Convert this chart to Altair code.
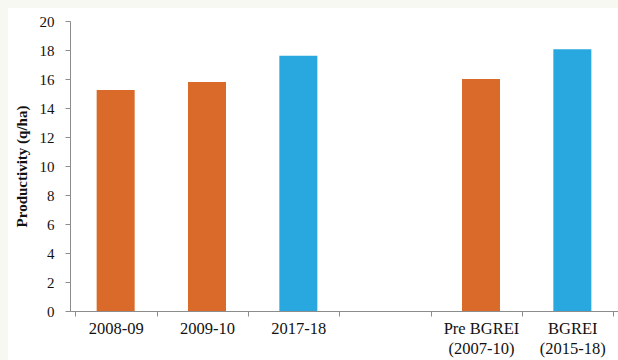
import altair as alt
import pandas as pd

categories = ["2008-09", "2009-10", "2017-18", "Pre BGREI|(2007-10)", "BGREI|(2015-18)"]
values = [15.25, 15.8, 17.6, 16.0, 18.05]
groups = ["Before", "Before", "After", "Before", "After"]
axis_domain = ["2008-09", "2009-10", "2017-18", "_gap", "Pre BGREI|(2007-10)", "BGREI|(2015-18)"]
y_ticks = [0, 2, 4, 6, 8, 10, 12, 14, 16, 18, 20]

df = pd.DataFrame({"cat": categories, "val": values, "grp": groups})

W, H = 548, 290
FONT = "'Liberation Serif', 'Times New Roman', Times, serif"

bg = alt.Chart(pd.DataFrame({"a": [0]})).mark_rect(color="white").encode(
    x=alt.value(-62), x2=alt.value(W + 20), y=alt.value(-13), y2=alt.value(H + 60)
)

bars = alt.Chart(df).mark_bar(size=38).encode(
    x=alt.X("cat:N", scale=alt.Scale(domain=axis_domain), sort=axis_domain,
            axis=alt.Axis(title=None, labelAngle=0, tickBand="extent", tickSize=5,
                          labelPadding=4, labelFont=FONT, labelFontSize=16.5,
                          labelColor="#111", domainColor="#8c8c8c", tickColor="#8c8c8c",
                          labelExpr="(!isString(datum.value) || datum.value == '_gap') ? '' : split(datum.value, '|')",
                          labelLineHeight=20, zindex=1)),
    y=alt.Y("val:Q", scale=alt.Scale(domain=[0, 20], nice=False),
            axis=alt.Axis(title="Productivity (q/ha)", values=y_ticks, grid=False,
                          tickSize=5, labelPadding=11, labelFont=FONT,
                          labelFontSize=15, labelColor="#111", domainColor="#8c8c8c",
                          tickColor="#8c8c8c", titleFont=FONT,
                          titleFontSize=15, titleFontWeight="bold", titleColor="#111",
                          titlePadding=10, zindex=1)),
    color=alt.Color("grp:N", scale=alt.Scale(domain=["Before", "After"],
                                             range=["#D96A29", "#29A8DF"]), legend=None),
)

chart = alt.layer(bg, bars).properties(
    width=W, height=H,
    autosize=alt.AutoSizeParams(type="none"),
    padding={"left": 70, "top": 21, "right": 0, "bottom": 49},
    background="#F8F8F3",
).configure_view(stroke=None)

chart.save("out.html", embed_options={"renderer": "svg", "actions": False})
